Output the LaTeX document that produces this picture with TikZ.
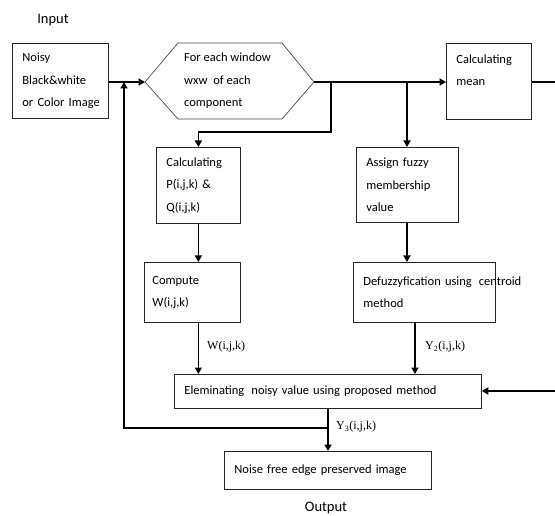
\documentclass[tikz,border=0pt]{standalone}
\usepackage{fontspec}
\setmainfont{Carlito}
\newfontfamily\serifl{Liberation Serif}
\usetikzlibrary{arrows.meta}
\begin{document}
\begin{tikzpicture}[x=1pt,y=-1pt,
  box/.style={draw=black!85, line width=0.8pt, anchor=north west, align=left,
    inner xsep=10pt, inner ysep=0pt, font=\fontsize{12.5}{22.5}\selectfont},
  conn/.style={line width=1.8pt, -{Triangle[length=6.5pt,width=7pt]}},
  lab/.style={anchor=west, inner sep=0pt, font=\serifl\fontsize{12}{14}\selectfont},
  title/.style={inner sep=0pt, font=\fontsize{14.5}{16}\selectfont}]
\useasboundingbox (0,0) rectangle (555,516);
\clip (0,0) rectangle (555,516);
\fill[white] (0,0) rectangle (555,516);

\node[title] (in) at (53,20) {Input};
\node[title] (outt) at (326,508) {Output};

\node[box, text width=76pt, minimum height=75pt] (noisy) at (12,43) {\mbox{Noisy}\\\mbox{Black\&white}\\\mbox{or Color Image}};

% hexagon
\draw[black!70, line width=0.7pt] (145,82) -- (178,43) -- (282,43) -- (314,82) -- (282,119) -- (178,119) -- cycle;
\coordinate (hexW) at (145,82);
\coordinate (hexE) at (314,82);
\node[anchor=north west, align=left, inner sep=0pt, font=\fontsize{12.5}{22.5}\selectfont] (hextext) at (184,53) {\mbox{For each window}\\\mbox{wxw\hspace{3pt} of each}\\\mbox{component}};

\node[box, text width=65pt, minimum height=76pt] (mean) at (446,43) {\mbox{Calculating}\\\mbox{mean}\\\mbox{}};
\node[box, text width=64pt, minimum height=76pt] (calcP) at (156,147) {\mbox{Calculating}\\\mbox{P(i,j,k) \&}\\\mbox{Q(i,j,k)}};
\node[box, inner xsep=8pt, text width=80pt, minimum height=60pt] (comp) at (144,262) {\mbox{Compute}\\\mbox{W(i,j,k)}};
\node[box, text width=82pt, minimum height=75pt] (assign) at (356,147) {\mbox{Assign fuzzy}\\\mbox{membership}\\\mbox{value}};
\node[box, text width=122pt, minimum height=60pt] (defuz) at (353,262) {\mbox{Defuzzyfication using\hspace{3pt} centroid}\\\mbox{method}};
\node[box, text width=287pt, minimum height=34pt] (elim) at (174,374) {\mbox{Eleminating\hspace{3pt} noisy value using proposed method}};
\node[box, text width=187pt, minimum height=38pt] (nfree) at (224,451) {\mbox{Noise free edge preserved image}};

% coordinates
\coordinate (fb) at (124,82);
\coordinate (b1) at (331,82);
\coordinate (b1d) at (331,132);
\coordinate (b2) at (407,82);
\coordinate (j3) at (328,428);

% connectors
\draw[conn] (noisy.east |- hexW) -- (hexW);
\draw[conn] (hexE) -- (mean.west |- hexE);
\draw[conn] (b1) -- (b1d) -| (calcP.north);
\draw[conn] (b2) -- (b2 |- assign.north);
\draw[conn] (calcP.south) -- (comp.north -| calcP.south);
\draw[conn] (assign.south -| b2) -- (defuz.north -| b2);
\draw[conn] (comp.south -| calcP.south) -- (elim.north -| calcP.south);
\draw[conn] (415,322) -- (elim.north -| 415,0);
\draw[conn] (mean.east |- hexE) -- (575,82) |- (elim.east |- 0,391);
\draw[conn] (elim.south -| j3) -- (nfree.north -| j3);
\draw[conn] (j3) -| (fb);

% labels
\node[lab] (lw) at (207,347) {W(i,j,k)};
\node[lab] (ly2) at (425,347) {Y\textsubscript{2}(i,j,k)};
\node[lab] (ly3) at (336,427) {Y\textsubscript{3}(i,j,k)};
\end{tikzpicture}
\end{document}
